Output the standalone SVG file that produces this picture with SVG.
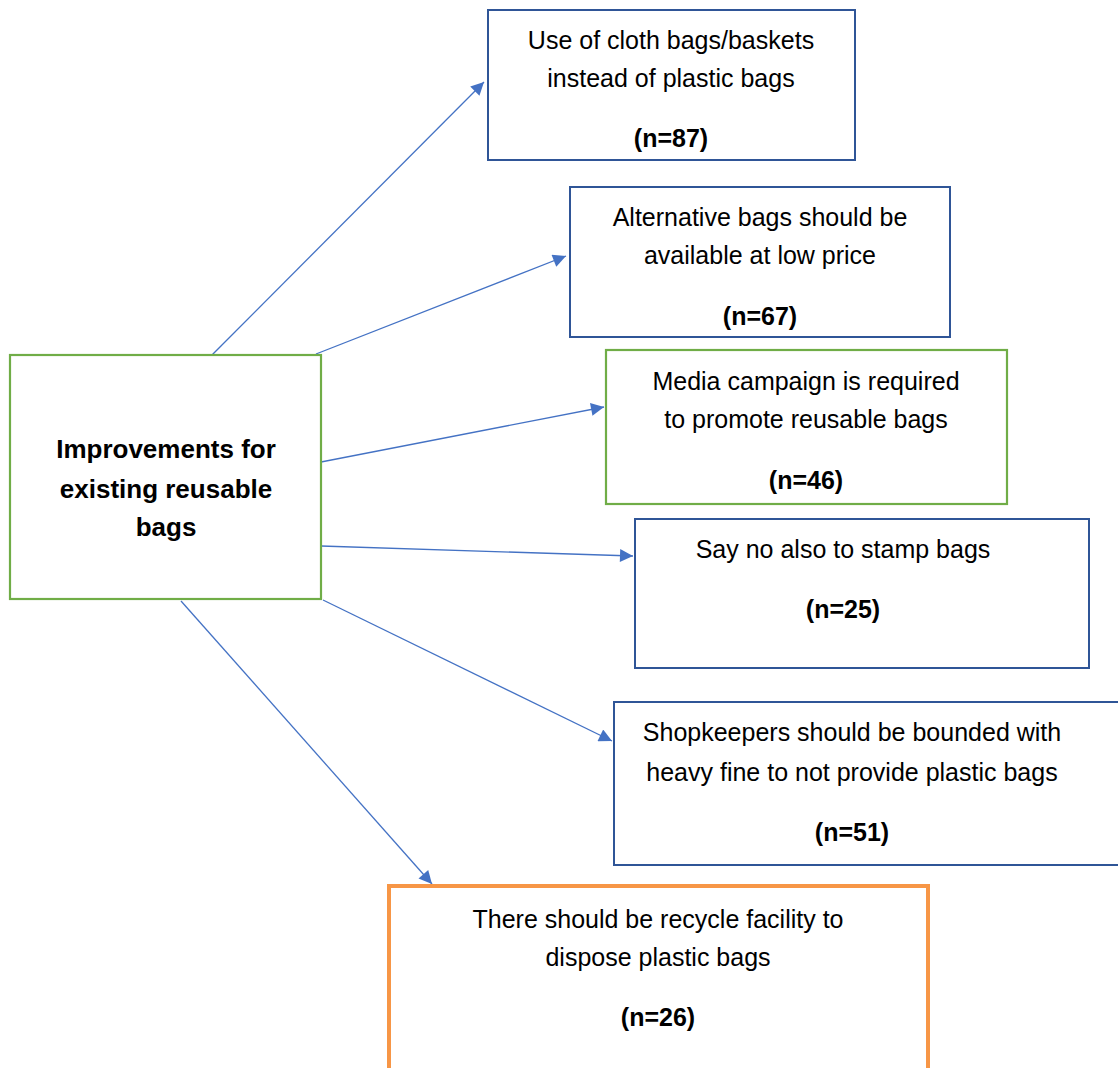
<svg xmlns="http://www.w3.org/2000/svg" width="1118" height="1068" viewBox="0 0 1118 1068">
<style>
.t{font-family:"Liberation Sans",Arial,sans-serif;font-size:25px;fill:#000;text-anchor:middle}
.b{font-weight:bold}
.h{font-size:26px}
.blue{fill:#fff;stroke:#2F5597;stroke-width:2}
.green{fill:#fff;stroke:#70AD47;stroke-width:2.2}
.orange{fill:#fff;stroke:#F79646;stroke-width:4}
.c{stroke:#4472C4;stroke-width:1.3;fill:none;marker-end:url(#ah)}
</style>
<defs>
<marker id="ah" viewBox="0 0 10 10" refX="10" refY="5" markerWidth="15" markerHeight="13" markerUnits="userSpaceOnUse" orient="auto">
<path d="M0,0 L10,5 L0,10 z" fill="#4472C4"/>
</marker>
</defs>
<rect width="1118" height="1068" fill="#fff"/>
<g id="connectors">
<line class="c" x1="212" y1="355" x2="484" y2="82"/>
<line class="c" x1="316" y1="354" x2="566" y2="256"/>
<line class="c" x1="321" y1="462" x2="604" y2="407"/>
<line class="c" x1="321" y1="546" x2="633" y2="556"/>
<line class="c" x1="323" y1="600" x2="612" y2="741"/>
<line class="c" x1="181" y1="601" x2="432" y2="884"/>
</g>
<g id="center">
<rect class="green" x="10" y="355" width="311" height="244"/>
<text class="t b h" x="166" y="458">Improvements for</text>
<text class="t b h" x="166" y="498">existing reusable</text>
<text class="t b h" x="166" y="536">bags</text>
</g>
<g id="n1">
<rect class="blue" x="488" y="10" width="367" height="150"/>
<text class="t" x="671" y="49">Use of cloth bags/baskets</text>
<text class="t" x="671" y="87">instead of plastic bags</text>
<text class="t b" x="671" y="147">(n=87)</text>
</g>
<g id="n2">
<rect class="blue" x="570" y="187" width="380" height="150"/>
<text class="t" x="760" y="226">Alternative bags should be</text>
<text class="t" x="760" y="264">available at low price</text>
<text class="t b" x="760" y="325">(n=67)</text>
</g>
<g id="n3">
<rect class="green" x="606" y="350" width="401" height="154"/>
<text class="t" x="806" y="390">Media campaign is required</text>
<text class="t" x="806" y="428">to promote reusable bags</text>
<text class="t b" x="806" y="489">(n=46)</text>
</g>
<g id="n4">
<rect class="blue" x="635" y="519" width="454" height="149"/>
<text class="t" x="843" y="558">Say no also to stamp bags</text>
<text class="t b" x="843" y="618">(n=25)</text>
</g>
<g id="n5">
<rect class="blue" x="614" y="702" width="510" height="163"/>
<text class="t" x="852" y="741">Shopkeepers should be bounded with</text>
<text class="t" x="852" y="781">heavy fine to not provide plastic bags</text>
<text class="t b" x="852" y="841">(n=51)</text>
</g>
<g id="n6">
<rect class="orange" x="389" y="886" width="539" height="190"/>
<text class="t" x="658" y="928">There should be recycle facility to</text>
<text class="t" x="658" y="966">dispose plastic bags</text>
<text class="t b" x="658" y="1026">(n=26)</text>
</g>
</svg>
